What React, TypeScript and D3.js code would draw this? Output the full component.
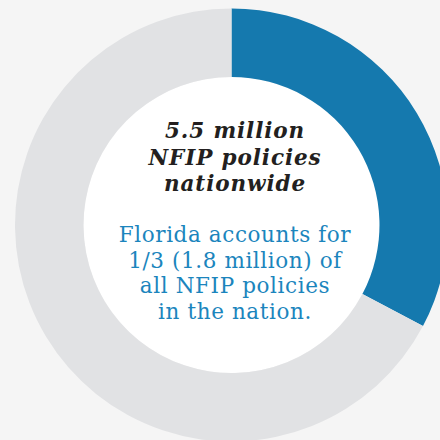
import React from "react";
import * as d3 from "d3";

const categories = ["Florida", "Rest of nation"];
const values = [1.8, 3.7];
const colors = ["#1579ae", "#e1e2e4"];
const titleLines = ["5.5 million", "NFIP policies", "nationwide"];
const bodyLines = ["Florida accounts for", "1/3 (1.8 million) of", "all NFIP policies", "in the nation."];

export default function App() {
  const W = 440, H = 440;
  const cx = 231.5, cy = 225;
  const outerR = 216.5, innerR = 148;
  const pie = d3.pie<number>().sort(null).value((d) => d);
  const arcs = pie(values);
  const arc = d3.arc<d3.PieArcDatum<number>>().innerRadius(innerR).outerRadius(outerR);
  const tx = 235;
  return (
    <svg width={W} height={H} style={{ position: "absolute", left: 0, top: 0 }}>
      <rect width={W} height={H} fill="#f5f5f5" />
      <g transform={`translate(${cx},${cy})`}>
        <circle r={innerR} fill="#ffffff" />
        {arcs.map((a, i) => (
          <path key={categories[i]} d={arc(a) || ""} fill={colors[i]} />
        ))}
      </g>
      <g fontFamily="'DejaVu Serif', serif" textAnchor="middle">
        {titleLines.map((t, i) => (
          <text key={t} x={tx} y={138 + i * 26.5} fontSize={21.5} fontWeight="bold" fontStyle="italic" letterSpacing={0.9} fill="#231f20">
            {t}
          </text>
        ))}
        {bodyLines.map((t, i) => (
          <text key={t} x={tx} y={242 + i * 25.5} fontSize={21.5} letterSpacing={0.6} fill="#1b85bd">
            {t}
          </text>
        ))}
      </g>
    </svg>
  );
}
